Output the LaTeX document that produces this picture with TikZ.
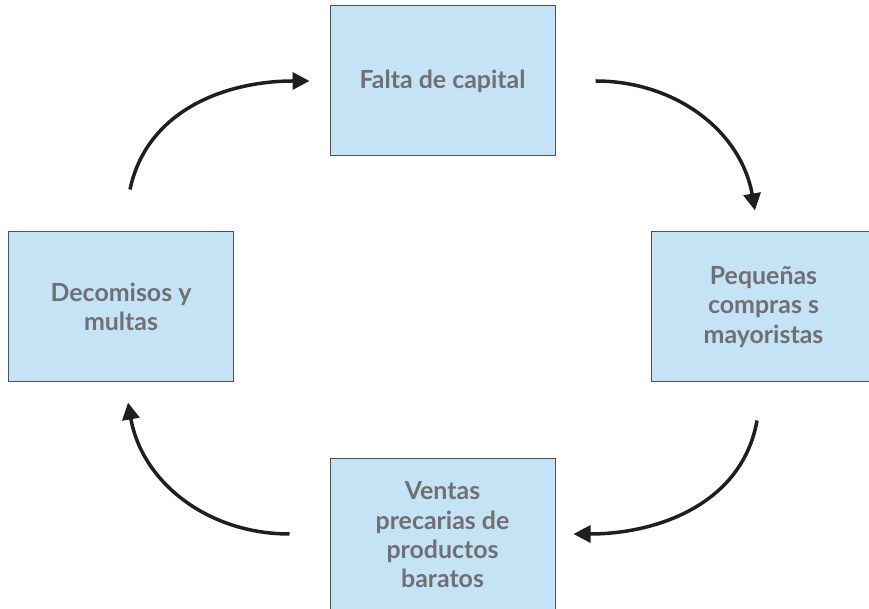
\documentclass[tikz,border=0pt]{standalone}
\usepackage{fontspec}
\setmainfont{Lato}
\usetikzlibrary{positioning, arrows.meta}

\definecolor{cajazul}{RGB}{196,227,245}
\definecolor{textogris}{RGB}{112,112,116}
\definecolor{bordegris}{RGB}{80,80,85}

\tikzset{
  caja/.style={draw=bordegris, line width=1bp, fill=cajazul,
    minimum width=225bp, minimum height=150bp, inner sep=0pt,
    align=center, text=textogris,
    font=\fontsize{25}{29.5}\selectfont\bfseries},
  flecha/.style={line width=3.5bp, draw=black!88,
    -{Triangle[length=17bp,width=17bp]}}
}

\begin{document}
\begin{tikzpicture}[x=1bp, y=1bp]
    \useasboundingbox (0,0) rectangle (869,609);

    \node[caja] (falta) at (442.5, 528) {Falta de capital};
    \node[caja] (pequenas) at (763.5, 302) {Pequeñas\\compras s\\mayoristas};
    \node[caja, minimum height=152bp] (ventas) at (442.5, 74) {Ventas\\precarias de\\productos\\baratos};
    \node[caja] (decomisos) at (121, 302) {Decomisos y\\multas};

    \coordinate (a1) at ([shift={(9bp,42bp)}]decomisos.north);
    \coordinate (b1) at ([xshift=-20bp]falta.west);
    \coordinate (a2) at ([xshift=40bp]falta.east);
    \coordinate (b2) at ([shift={(-8.5bp,21bp)}]pequenas.north);
    \coordinate (a3) at ([shift={(-6.5bp,-38bp)}]pequenas.south);
    \coordinate (b3) at ([shift={(18bp,1bp)}]ventas.east);
    \coordinate (a4) at ([shift={(-40bp,1bp)}]ventas.west);
    \coordinate (b4) at ([shift={(7bp,-20bp)}]decomisos.south);

    \draw[flecha] (a1) to[out=78, in=180] (b1);
    \draw[flecha] (a2) to[out=0, in=100] (b2);
    \draw[flecha] (a3) to[out=-100, in=0] (b3);
    \draw[flecha] (a4) to[out=180, in=-80] (b4);
\end{tikzpicture}
\end{document}
